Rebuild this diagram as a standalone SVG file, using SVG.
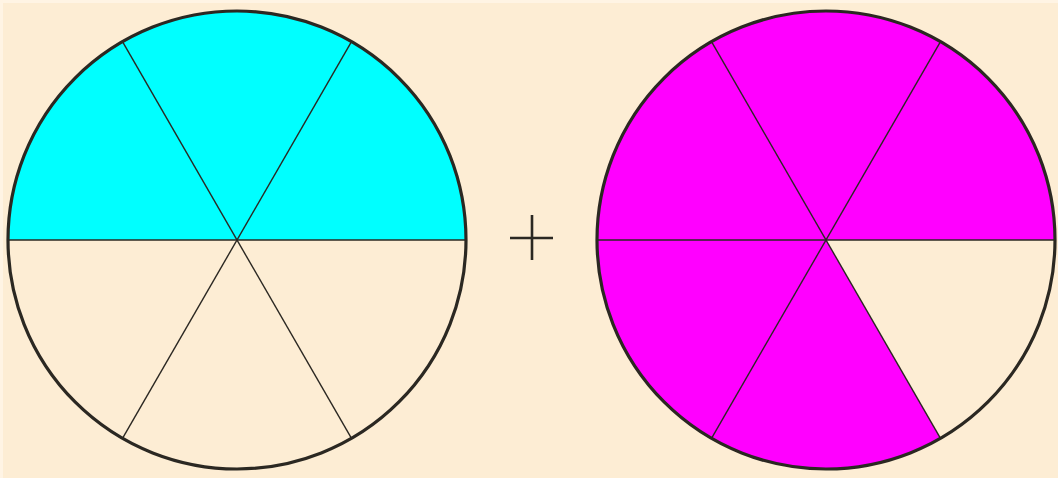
<svg xmlns="http://www.w3.org/2000/svg" width="1058" height="478" viewBox="0 0 1058 478">
<style>
.rim{fill:none;stroke:#2b2822;stroke-width:3.2}
.spoke{stroke:#2b2822;stroke-width:1.4;fill:none}
.cross{stroke:#2b2822;stroke-width:2.6;fill:none}
.cyan{fill:#00FFFF}
.mag{fill:#FF00FF}
</style>
<rect x="0" y="0" width="1058" height="478" fill="#FFF4E4"/>
<rect x="3" y="3" width="1055" height="475" fill="#FDEDD4"/>
<g id="left-circle">
<path class="cyan" d="M8 240 A229 229 0 0 1 466 240 Z"/>
<line class="spoke" x1="8" y1="240" x2="466" y2="240"/>
<line class="spoke" x1="122.5" y1="41.7" x2="351.5" y2="438.3"/>
<line class="spoke" x1="351.5" y1="41.7" x2="122.5" y2="438.3"/>
<circle class="rim" cx="237" cy="240" r="229"/>
</g>
<g id="plus">
<line class="cross" x1="510" y1="238" x2="553" y2="238"/>
<line class="cross" x1="532" y1="215" x2="532" y2="260"/>
</g>
<g id="right-circle">
<path class="mag" d="M826 240 L597 240 A229 229 0 0 1 1055 240 Z"/>
<path class="mag" d="M826 240 L597 240 A229 229 0 0 0 940.5 438.3 Z"/>
<line class="spoke" x1="597" y1="240" x2="1055" y2="240"/>
<line class="spoke" x1="711.5" y1="41.7" x2="940.5" y2="438.3"/>
<line class="spoke" x1="940.5" y1="41.7" x2="711.5" y2="438.3"/>
<circle class="rim" cx="826" cy="240" r="229"/>
</g>
</svg>
